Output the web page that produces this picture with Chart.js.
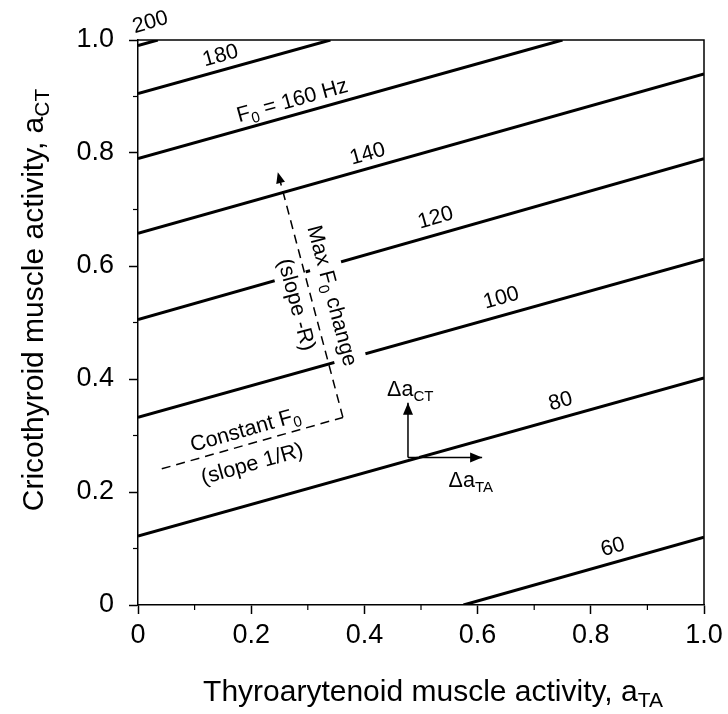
<!DOCTYPE html>
<html><head><meta charset="utf-8">
<script src="https://cdn.jsdelivr.net/npm/chart.js@4.4.1/dist/chart.umd.min.js"></script>
<style>html,body{margin:0;padding:0;background:#fff}#wrap{width:728px;height:714px}</style>
</head><body><div id="wrap"><canvas id="c" width="728" height="714"></canvas></div>
<script>
// ---- data ----
const contourLevels = [60, 80, 100, 120, 140, 160, 180, 200];
const contourStart = [[0.575,0],[0,0.122],[0,0.332],[0,0.505],[0,0.658],[0,0.79],[0,0.905],[0,0.99]];
const contourEnd   = [[1,0.12],[1,0.402],[1,0.612],[1,0.79],[1,0.94],[0.75,1],[0.34,1],[0.035,1]];
const contourLabelText = ['60','80','100','120','140','F_{0} = 160 Hz','180','200'];
const contourLabelPos  = [[0.838,0.105],[0.746,0.363],[0.641,0.546],[0.525,0.688],[0.405,0.801],[0.272,0.895],[0.145,0.975],[0.021,1.034]];

const constantF0Path = [[0.042,0.241],[0.362,0.332]];
const maxF0Path      = [[0.362,0.332],[0.247,0.766]];
const deltaCTPath    = [[0.477,0.261],[0.477,0.358]];
const deltaTAPath    = [[0.477,0.261],[0.608,0.261]];

const noteText = ['Max F_{0} change','(slope -R)','Constant F_{0}','(slope 1/R)','Δa_{CT}','Δa_{TA}'];
const notePos  = [[0.345,0.548],[0.282,0.532],[0.189,0.312],[0.201,0.252],[0.481,0.384],[0.588,0.222]];
const noteAngleRef = ['max','max','contour','contour','none','none'];
const noteWhiteBg  = [true, true, false, false, false, false];

const minorTicks = [0.1, 0.3, 0.5, 0.7, 0.9];
const xTitle = 'Thyroarytenoid muscle activity, a_{TA}';
const yTitle = 'Cricothyroid muscle activity, a_{CT}';

const FONT = '"Liberation Sans", Arial, Helvetica, sans-serif';
const LABEL_SIZE = 21.5, TITLE_SIZE = 30;
const toPts = p => p.map(q => ({x:q[0], y:q[1]}));

const datasets = [];
contourLevels.forEach((lv, i) => {
  datasets.push({label: 'F0 ' + lv, data: toPts([contourStart[i], contourEnd[i]]), showLine: true, order: 2,
    borderColor: '#000', borderWidth: 3, pointRadius: 0, borderCapStyle: 'butt'});
});
datasets.push({label:'constant', data: toPts(constantF0Path), showLine:true, order:1, borderColor:'#000', borderWidth:1.5, borderDash:[9,6], pointRadius:0});
datasets.push({label:'max', data: toPts(maxF0Path), showLine:true, order:1, borderColor:'#000', borderWidth:1.5, borderDash:[9,6], pointRadius:0});
datasets.push({label:'dCT', data: toPts(deltaCTPath), showLine:true, order:1, borderColor:'#000', borderWidth:1.5, pointRadius:0});
datasets.push({label:'dTA', data: toPts(deltaTAPath), showLine:true, order:1, borderColor:'#000', borderWidth:1.5, pointRadius:0});

function parseRich(t) {
  const segs = []; const re = /_\{([^}]*)\}/g; let last = 0, m;
  while ((m = re.exec(t))) { if (m.index > last) segs.push([t.slice(last, m.index), false]); segs.push([m[1], true]); last = re.lastIndex; }
  if (last < t.length) segs.push([t.slice(last), false]);
  return segs;
}
function richWidth(ctx, text, size) {
  let w = 0;
  parseRich(text).forEach(s => { ctx.font = (s[1] ? size*0.7 : size) + 'px ' + FONT; w += ctx.measureText(s[0]).width; });
  return w;
}
function drawRich(ctx, x, y, angle, text, size) {
  const segs = parseRich(text); const sub = size * 0.7;
  const w = richWidth(ctx, text, size);
  ctx.save(); ctx.translate(x, y); ctx.rotate(angle);
  ctx.fillStyle = '#000'; ctx.textBaseline = 'alphabetic'; ctx.textAlign = 'left';
  let cx = -w / 2; const base = size * 0.36;
  segs.forEach(s => {
    ctx.font = (s[1] ? sub : size) + 'px ' + FONT;
    ctx.fillText(s[0], cx, base + (s[1] ? size * 0.22 : 0));
    cx += ctx.measureText(s[0]).width;
  });
  ctx.restore();
}
function whiteBox(ctx, x, y, angle, w, h) {
  ctx.save(); ctx.translate(x, y); ctx.rotate(angle); ctx.fillStyle = '#fff';
  ctx.fillRect(-w/2, -h/2, w, h); ctx.restore();
}
function arrowHead(ctx, xs, ys, from, to, L, H) {
  const x1 = xs.getPixelForValue(from[0]), y1 = ys.getPixelForValue(from[1]);
  const x2 = xs.getPixelForValue(to[0]), y2 = ys.getPixelForValue(to[1]);
  const a = Math.atan2(y2 - y1, x2 - x1);
  ctx.save(); ctx.fillStyle = '#000'; ctx.beginPath();
  ctx.moveTo(x2, y2);
  ctx.lineTo(x2 - L*Math.cos(a) + H*Math.sin(a), y2 - L*Math.sin(a) - H*Math.cos(a));
  ctx.lineTo(x2 - L*Math.cos(a) - H*Math.sin(a), y2 - L*Math.sin(a) + H*Math.cos(a));
  ctx.closePath(); ctx.fill(); ctx.restore();
}
function angles(xs, ys) {
  const cA = Math.atan2(ys.getPixelForValue(constantF0Path[1][1]) - ys.getPixelForValue(constantF0Path[0][1]),
                        xs.getPixelForValue(constantF0Path[1][0]) - xs.getPixelForValue(constantF0Path[0][0]));
  const mA = Math.atan2(ys.getPixelForValue(maxF0Path[0][1]) - ys.getPixelForValue(maxF0Path[1][1]),
                        xs.getPixelForValue(maxF0Path[0][0]) - xs.getPixelForValue(maxF0Path[1][0]));
  return {cA, mA};
}
function noteAngle(i, A) { return noteAngleRef[i] === 'max' ? A.mA : (noteAngleRef[i] === 'contour' ? A.cA : 0); }

let bgPainted = false;
const decor = {
  id: 'decor',
  beforeDatasetsDraw() { bgPainted = false; },
  beforeDatasetDraw(chart, args) {
    if (bgPainted || chart.data.datasets[args.index].order !== 1) return;
    bgPainted = true;
    const ctx = chart.ctx, xs = chart.scales.x, ys = chart.scales.y, A = angles(xs, ys);
    noteText.forEach((t, i) => {
      if (!noteWhiteBg[i]) return;
      whiteBox(ctx, xs.getPixelForValue(notePos[i][0]), ys.getPixelForValue(notePos[i][1]), noteAngle(i, A),
               richWidth(ctx, t, LABEL_SIZE) + 10, LABEL_SIZE * 1.5);
    });
    // small gap of contour 80 beside the origin of the delta arrows
    const ox = xs.getPixelForValue(deltaTAPath[0][0]), oy = ys.getPixelForValue(deltaTAPath[0][1]);
    ctx.save(); ctx.fillStyle = '#fff'; ctx.fillRect(ox + 1, oy - 6, 10, 5); ctx.restore();
  },
  afterDatasetsDraw(chart) {
    const ctx = chart.ctx, xs = chart.scales.x, ys = chart.scales.y, ca = chart.chartArea;
    ctx.save(); ctx.strokeStyle = '#000'; ctx.lineWidth = 1.5;
    ctx.beginPath(); ctx.moveTo(ca.left, ca.top); ctx.lineTo(ca.right, ca.top); ctx.lineTo(ca.right, ca.bottom); ctx.stroke();
    ctx.lineWidth = 1.2;
    minorTicks.forEach(v => {
      const px = xs.getPixelForValue(v); ctx.beginPath(); ctx.moveTo(px, ca.bottom); ctx.lineTo(px, ca.bottom + 5); ctx.stroke();
      const py = ys.getPixelForValue(v); ctx.beginPath(); ctx.moveTo(ca.left, py); ctx.lineTo(ca.left - 5, py); ctx.stroke();
    });
    ctx.restore();
    contourLevels.forEach((lv, i) => {
      const a = Math.atan2(ys.getPixelForValue(contourEnd[i][1]) - ys.getPixelForValue(contourStart[i][1]),
                           xs.getPixelForValue(contourEnd[i][0]) - xs.getPixelForValue(contourStart[i][0]));
      drawRich(ctx, xs.getPixelForValue(contourLabelPos[i][0]), ys.getPixelForValue(contourLabelPos[i][1]), a, contourLabelText[i], LABEL_SIZE);
    });
    const A = angles(xs, ys);
    noteText.forEach((t, i) => {
      drawRich(ctx, xs.getPixelForValue(notePos[i][0]), ys.getPixelForValue(notePos[i][1]), noteAngle(i, A), t, LABEL_SIZE);
    });
    arrowHead(ctx, xs, ys, maxF0Path[0], maxF0Path[1], 11, 4.5);
    arrowHead(ctx, xs, ys, deltaCTPath[0], deltaCTPath[1], 12, 5);
    arrowHead(ctx, xs, ys, deltaTAPath[0], deltaTAPath[1], 12, 5);
    drawRich(ctx, 433, 690, 0, xTitle, TITLE_SIZE);
    drawRich(ctx, 32, 300, -Math.PI / 2, yTitle, TITLE_SIZE);
  }
};

const tickFmt = v => { const r = Math.round(v * 10) / 10; return r === 0 ? '0' : r.toFixed(1); };
const axisCommon = {
  type: 'linear', min: 0, max: 1,
  border: {display: true, color: '#000', width: 1.5},
  grid: {display: true, drawOnChartArea: false, drawTicks: true, tickLength: 9, color: '#000', tickWidth: 1.5},
};

new Chart(document.getElementById('c'), {
  type: 'scatter',
  data: {datasets},
  plugins: [decor],
  options: {
    responsive: false, animation: false,
    layout: {padding: {top: 40, right: 24, left: 0, bottom: 0}},
    plugins: {legend: {display: false}, tooltip: {enabled: false}},
    scales: {
      x: Object.assign({}, axisCommon, {
        ticks: {stepSize: 0.2, color: '#000', font: {family: FONT, size: 27}, padding: 5, callback: tickFmt, maxRotation: 0},
        afterFit(s) { s.height = 109; }
      }),
      y: Object.assign({}, axisCommon, {
        ticks: {stepSize: 0.2, color: '#000', font: {family: FONT, size: 27}, padding: 15, callback: tickFmt},
        afterFit(s) { s.width = 138; }
      })
    }
  }
});
</script></body></html>
